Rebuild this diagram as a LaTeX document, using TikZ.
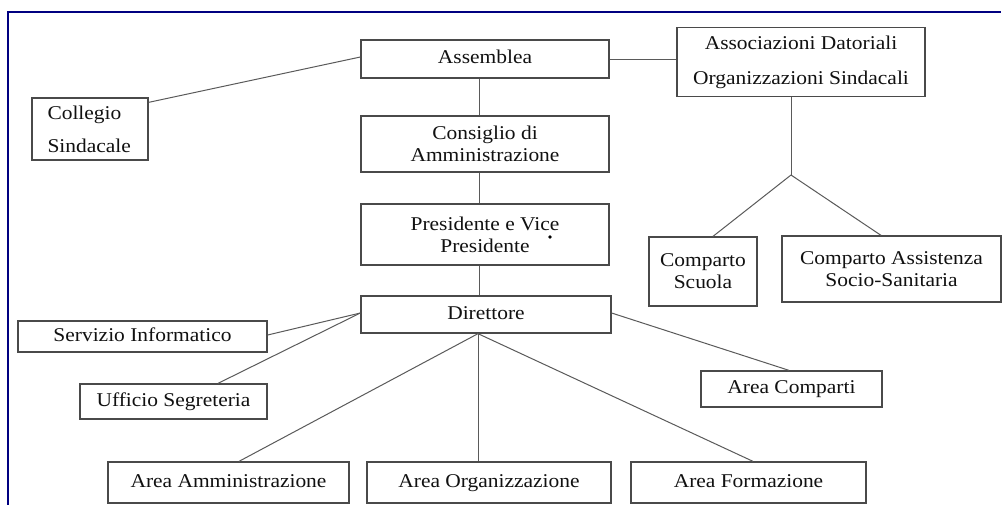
\documentclass[tikz,border=0pt]{standalone}
\usepackage{fontspec}
\setmainfont[FakeStretch=1.1]{Liberation Serif}
\usetikzlibrary{calc}
\definecolor{frameblue}{HTML}{000080}
\definecolor{boxline}{HTML}{4A4A4A}
\definecolor{connline}{HTML}{5A5A5A}
\definecolor{txt}{HTML}{111111}
\tikzset{
  box/.style={draw=boxline, line width=1.3pt, rectangle, inner sep=0pt, align=center,
    text=txt, font=\fontsize{19.5}{22}\selectfont},
  single/.style={text height=13.5pt, text depth=4.5pt},
  conn/.style={draw=connline, line width=1pt}
}
\begin{document}
\begin{tikzpicture}[x=1pt,y=-1pt]
\useasboundingbox (0,0) rectangle (1003,504);
\fill[white] (0,0) rectangle (1003,504);
% frame (cropped on right and bottom)
\draw[frameblue, line width=2.2pt] (8,506) -- (8,12) -- (1001,12);

% nodes
\node[box, single, minimum width=248pt, minimum height=38pt] (ass) at (485,59) {Assemblea};
\node[box, minimum width=248pt, minimum height=69pt] (aso) at (801,62) {Associazioni Datoriali\\[13pt]Organizzazioni Sindacali};
\node[box, minimum width=116pt, minimum height=62pt, align=left, text width=85pt] (col) at (90,129) {Collegio\\[11pt]Sindacale};
\node[box, minimum width=248pt, minimum height=56pt] (con) at (485,144) {Consiglio di\\Amministrazione};
\node[box, minimum width=248pt, minimum height=61pt] (pre) at (485,234.5) {Presidente e Vice\\Presidente};
\node[box, single, minimum width=250pt, minimum height=37pt] (dir) at (486,314.5) {Direttore};
\node[box, single, minimum width=249pt, minimum height=31pt] (ser) at (142.5,336.5) {Servizio Informatico};
\node[box, single, minimum width=187pt, minimum height=35pt] (uff) at (173.5,401.5) {Ufficio Segreteria};
\node[box, single, minimum width=241pt, minimum height=41pt] (aam) at (228.5,482.5) {Area Amministrazione};
\node[box, single, minimum width=244pt, minimum height=41pt] (aor) at (489,482.5) {Area Organizzazione};
\node[box, single, minimum width=235pt, minimum height=41pt] (afo) at (748.5,482.5) {Area Formazione};
\node[box, single, minimum width=181pt, minimum height=36pt] (aco) at (791.5,389) {Area Comparti};
\node[box, minimum width=108pt, minimum height=69pt] (csc) at (703,271.5) {Comparto\\Scuola};
\node[box, minimum width=219pt, minimum height=66pt] (cas) at (891.5,269) {Comparto Assistenza\\Socio-Sanitaria};

% stray dot
\fill[black] (550,237) circle (1.8pt);

% connectors
\draw[conn] ([yshift=-5pt]col.north east) -- ([yshift=2pt]ass.west);
\draw[conn] (ass.east) -- (ass.east -| aso.west);
\draw[conn] ([xshift=-6pt]ass.south) -- ([xshift=-6pt]ass.south |- con.north);
\draw[conn] ([xshift=-6pt]con.south) -- ([xshift=-6pt]con.south |- pre.north);
\draw[conn] ([xshift=-6pt]pre.south) -- ([xshift=-6pt]pre.south |- dir.north);
\coordinate (dirb) at ([xshift=-8pt]dir.south);
\draw[conn] (dirb) -- (dirb |- aor.north);
\draw[conn] (dirb) -- ([xshift=10.5pt]aam.north);
\draw[conn] (dirb) -- ([xshift=4.5pt]afo.north);
\coordinate (dirl) at ([yshift=1.5pt]dir.west);
\draw[conn] (dirl) -- ([yshift=1.5pt]ser.east);
\draw[conn] (dirl) -- ([xshift=44.5pt]uff.north);
\draw[conn] ([yshift=1.5pt]dir.east) -- ([xshift=-2.5pt]aco.north);
\coordinate (fork) at (aso.south |- 0,175);
\draw[conn] ([xshift=-10pt]aso.south) -- ([xshift=-10pt]fork);
\draw[conn] ([xshift=-10pt]fork) -- ([xshift=10pt]csc.north);
\draw[conn] ([xshift=-10pt]fork) -- ([xshift=-10.5pt]cas.north);
\end{tikzpicture}
\end{document}
